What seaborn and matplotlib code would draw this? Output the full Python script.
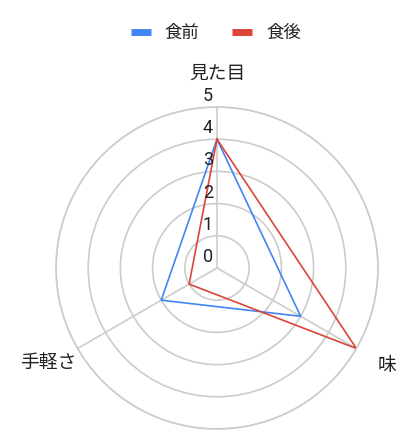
import numpy as np
import pandas as pd
import matplotlib
matplotlib.use("Agg")
import matplotlib.pyplot as plt
from matplotlib.lines import Line2D
import seaborn as sns

# chart data
categories = ["見た目", "味", "手軽さ"]
before_meal = [4, 3, 2]
after_meal = [4, 5, 1]
series_names = ["食前", "食後"]
tick_values = [0, 1, 2, 3, 4, 5]

BLUE = "#4285F4"
RED = "#DB4437"
GRID = "#CCCCCC"
TEXT = "#222222"


def build_frame():
    # angles clockwise from the top, polygon closed by repeating the first point
    angles = np.linspace(0, 2 * np.pi, len(categories), endpoint=False)
    rows = []
    for name, values in zip(series_names, [before_meal, after_meal]):
        for i in list(range(len(categories))) + [0]:
            rows.append({"series": name, "angle": angles[i], "value": values[i]})
    return pd.DataFrame(rows), angles


def main():
    sns.set_theme(style="white")
    plt.rcParams["font.family"] = ["Roboto", "Noto Sans CJK JP", "DejaVu Sans"]

    df, angles = build_frame()

    fig = plt.figure(figsize=(4.15, 4.47), dpi=100)
    ax = fig.add_axes([56 / 415, 18 / 447, 322 / 415, 322 / 447], projection="polar")
    ax.set_theta_offset(np.pi / 2)
    ax.set_theta_direction(-1)
    ax.set_ylim(0, 5)

    # grid rings and spokes
    ax.set_yticks(tick_values[1:])
    ax.set_yticklabels([])
    ax.set_xticks(angles)
    ax.set_xticklabels([])
    ax.grid(True, color=GRID, linewidth=1.2)
    ax.spines["polar"].set_color(GRID)
    ax.spines["polar"].set_linewidth(1.2)

    sns.lineplot(
        data=df,
        x="angle",
        y="value",
        hue="series",
        palette=[BLUE, RED],
        sort=False,
        estimator=None,
        linewidth=1.2,
        legend=False,
        ax=ax,
    )
    ax.set_xlabel("")
    ax.set_ylabel("")

    # radial tick labels along the top spoke
    for v in tick_values:
        ax.annotate(
            str(v), xy=(0, v), xytext=(-4, 11), textcoords="offset pixels",
            ha="right", va="center", fontsize=13, color=TEXT,
        )

    # category labels
    label_offsets = [(0, 33, "center"), (31, -17, "center"), (-1, -14, "right")]
    for ang, cat, (dx, dy, ha) in zip(angles, categories, label_offsets):
        ax.annotate(
            cat, xy=(ang, 5), xytext=(dx, dy), textcoords="offset pixels",
            ha=ha, va="center", fontsize=13.5, color=TEXT, annotation_clip=False,
        )

    handles = [
        Line2D([0], [0], color=c, lw=5, solid_capstyle="butt") for c in [BLUE, RED]
    ]
    fig.legend(
        handles, series_names, loc="center", bbox_to_anchor=(0.52, 1 - 33 / 447),
        ncol=2, frameon=False, fontsize=12.5, handlelength=1.15, handletextpad=0.8,
        columnspacing=1.9, labelcolor=TEXT,
    )

    fig.savefig("out.png", dpi=100)
    plt.close(fig)


if __name__ == "__main__":
    main()
